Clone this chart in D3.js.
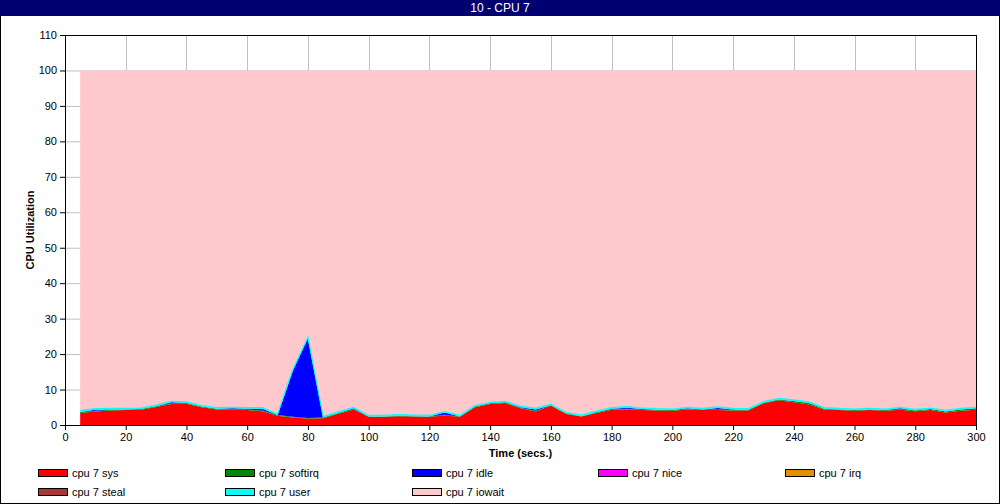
<!DOCTYPE html>
<html><head><meta charset="utf-8">
<script src="https://cdn.jsdelivr.net/npm/d3@7"></script>
<style>body{margin:0;background:#fff}svg{display:block;font-family:"Liberation Sans",Arial,sans-serif}</style>
</head><body><svg id="c" width="1000" height="504"></svg>
<script>
const times = [5,10,15,20,25,30,35,40,45,50,55,60,65,70,75,80,85,90,95,100,105,110,115,120,125,130,135,140,145,150,155,160,165,170,175,180,185,190,195,200,205,210,215,220,225,230,235,240,245,250,255,260,265,270,275,280,285,290,295,300];
const sys = [3.4,3.8,4.1,4.2,4.3,5.1,5.9,6.0,5.0,4.4,4.3,4.2,3.9,2.6,2.1,1.8,1.9,3.2,4.4,2.3,2.3,2.5,2.4,2.3,2.7,2.3,5.0,5.9,6.2,4.7,3.8,5.5,3.1,2.4,3.4,4.3,4.4,4.2,4.1,4.0,4.4,4.2,4.2,4.1,4.1,6.1,7.0,6.4,5.8,4.4,4.2,4.0,4.2,4.0,4.3,3.9,4.2,3.5,4.0,4.3];
const softirq = [0.2,0.2,0.2,0.2,0.2,0.2,0.2,0.2,0.2,0.2,0.2,0.2,0.2,0.2,0.2,0.2,0.2,0.2,0.2,0.1,0.1,0.1,0.1,0.1,0.2,0.1,0.2,0.2,0.2,0.2,0.2,0.1,0.2,0.1,0.2,0.2,0.2,0.2,0.2,0.2,0.2,0.2,0.2,0.2,0.2,0.2,0.2,0.3,0.4,0.2,0.2,0.2,0.2,0.2,0.2,0.2,0.3,0.3,0.4,0.4];
const idle = [0.1,0.3,0.1,0,0,0,0.3,0,0,0,0.2,0.2,0.5,0,13.0,22.5,0,0,0.1,0,0,0,0,0,0.6,0,0,0,0,0.1,0.4,0,0,0,0,0.1,0.3,0.1,0,0,0.1,0,0.4,0.1,0,0,0,0.1,0,0,0,0,0,0,0.2,0,0,0,0,0];
const nice = [0,0,0,0,0,0,0,0,0,0,0,0,0,0,0,0,0,0,0,0,0,0,0,0,0,0,0,0,0,0,0,0,0,0,0,0,0,0,0,0,0,0,0,0,0,0,0,0,0,0,0,0,0,0,0,0,0,0,0,0];
const irq = [0,0,0,0,0,0,0,0,0,0,0,0,0,0,0,0,0,0,0,0,0,0,0,0,0,0,0,0,0,0,0,0,0,0,0,0,0,0,0,0,0,0,0,0,0,0,0,0,0,0,0,0,0,0,0,0,0,0,0,0];
const steal = [0,0,0,0,0,0,0,0,0,0,0,0,0,0,0,0,0,0,0,0,0,0,0,0,0,0,0,0,0,0,0,0,0,0,0,0,0,0,0,0,0,0,0,0,0,0,0,0,0,0,0,0,0,0,0,0,0,0,0,0];
const user = [0.4,0.3,0.3,0.3,0.3,0.3,0.3,0.3,0.3,0.3,0.3,0.3,0.3,0.3,0.3,0.3,0.3,0.3,0.3,0.3,0.3,0.3,0.3,0.3,0.3,0.3,0.3,0.3,0.3,0.3,0.3,0.3,0.3,0.3,0.3,0.3,0.3,0.3,0.3,0.3,0.3,0.3,0.3,0.3,0.3,0.3,0.3,0.3,0.3,0.3,0.3,0.3,0.3,0.3,0.3,0.3,0.3,0.3,0.3,0.3];
const iowait = [95.9,95.4,95.3,95.3,95.2,94.4,93.3,93.5,94.5,95.1,95.0,95.1,95.1,96.9,84.4,75.2,97.6,96.3,95.0,97.3,97.3,97.1,97.2,97.3,96.2,97.3,94.5,93.6,93.3,94.7,95.3,94.1,96.4,97.2,96.1,95.1,94.8,95.2,95.4,95.5,95.0,95.3,94.9,95.3,95.4,93.4,92.5,92.9,93.5,95.1,95.3,95.5,95.3,95.5,95.0,95.6,95.2,95.9,95.3,94.9];
const seriesNames = ["cpu 7 sys","cpu 7 softirq","cpu 7 idle","cpu 7 nice","cpu 7 irq","cpu 7 steal","cpu 7 user","cpu 7 iowait"];
const seriesColors = ["#ff0000","#008800","#0000ff","#ff00ff","#e09000","#a83838","#00ffff","#ffc8cc"];
const xTicks = [0,20,40,60,80,100,120,140,160,180,200,220,240,260,280,300];
const yTicks = [0,10,20,30,40,50,60,70,80,90,100,110];
const title = "10 - CPU 7";

const svg = d3.select("#c");
const W = 1000, H = 504;
const L = 65, R = 976, T = 35, B = 425;
const x = d3.scaleLinear().domain([0,300]).range([L,R]);
const y = d3.scaleLinear().domain([0,110]).range([B,T]);

svg.append("rect").attr("x",0.5).attr("y",0.5).attr("width",W-1).attr("height",H-1).attr("fill","#fff").attr("stroke","#000");
svg.append("rect").attr("x",0).attr("y",0).attr("width",W).attr("height",16).attr("fill","#000070");
svg.append("text").attr("x",W/2).attr("y",12).attr("text-anchor","middle").attr("fill","#fff").attr("font-size",12).text(title);

// grid
const g = svg.append("g");
g.selectAll(".hg").data(yTicks.filter(d=>d>0&&d<110)).join("line")
 .attr("x1",L).attr("x2",R).attr("y1",d=>y(d)+0.5).attr("y2",d=>y(d)+0.5).attr("stroke","#c0c0c0");
g.selectAll(".vg").data(xTicks.filter(d=>d>0&&d<300)).join("line")
 .attr("x1",d=>Math.round(x(d))+0.5).attr("x2",d=>Math.round(x(d))+0.5).attr("y1",T).attr("y2",B).attr("stroke","#c0c0c0");

// stacked areas
const vals = [sys,softirq,idle,nice,irq,steal,user,iowait];
const rows = times.map((t,i)=>{const o={t}; seriesNames.forEach((n,k)=>o[n]=vals[k][i]); return o;});
const stack = d3.stack().keys(seriesNames)(rows);
const area = d3.area().x(d=>x(d.data.t)).y0(d=>y(d[0])).y1(d=>y(d[1]));
svg.append("g").selectAll("path").data(stack).join("path")
 .attr("d",area).attr("fill",(d,i)=>seriesColors[i]);
// thin outline on top of the user band
const topLine = d3.line().x(d=>x(d.data.t)).y(d=>y(d[1]));
svg.append("path").datum(stack[6]).attr("d",topLine).attr("fill","none").attr("stroke",seriesColors[6]).attr("stroke-width",1.2);

// axes
const ax = svg.append("g").attr("transform",`translate(0,${B})`).call(d3.axisBottom(x).tickValues(xTicks).tickSize(5).tickSizeOuter(0));
const ay = svg.append("g").attr("transform",`translate(${L},0)`).call(d3.axisLeft(y).tickValues(yTicks).tickSize(5).tickSizeOuter(0));
[ax,ay].forEach(a=>{a.selectAll("text").attr("font-size",11).attr("fill","#000").attr("font-family","Liberation Sans, Arial, sans-serif");a.select(".domain").attr("stroke","#000");a.selectAll(".tick line").attr("stroke","#000");});
svg.append("rect").attr("x",L+0.5).attr("y",T+0.5).attr("width",R-L).attr("height",B-T).attr("fill","none").attr("stroke","#000");

svg.append("text").attr("x",(L+R)/2).attr("y",457).attr("text-anchor","middle").attr("font-size",11).attr("font-weight","bold").text("Time (secs.)");
svg.append("text").attr("transform",`translate(34,${(T+B)/2}) rotate(-90)`).attr("text-anchor","middle").attr("font-size",11).attr("font-weight","bold").text("CPU Utilization");

// legend
const colX = [38,225,412,598,785];
const leg = svg.append("g").selectAll("g").data(seriesNames).join("g")
 .attr("transform",(d,i)=>`translate(${colX[i%5]},${i<5?469:488})`);
leg.append("rect").attr("x",0.5).attr("y",0.5).attr("width",29).attr("height",7).attr("fill",(d,i)=>seriesColors[i]).attr("stroke","#000");
leg.append("text").attr("x",34).attr("y",8).attr("font-size",11).text(d=>d);
</script></body></html>
